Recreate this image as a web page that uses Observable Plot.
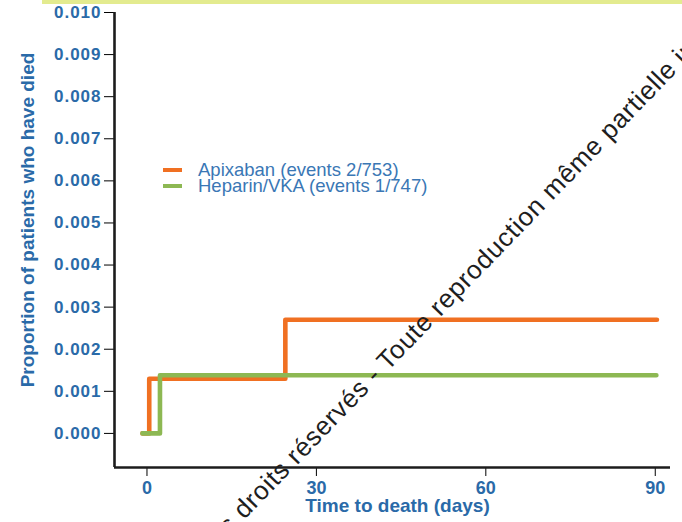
<!DOCTYPE html>
<html>
<head>
<meta charset="utf-8">
<script src="https://cdn.jsdelivr.net/npm/d3@7"></script>
<script src="https://cdn.jsdelivr.net/npm/@observablehq/plot@0.6"></script>
<style>
  body { margin: 0; background: #fff; }
  #wrap { position: relative; width: 682px; height: 522px; overflow: hidden; }
  #topband { position: absolute; left: 42px; top: 0; width: 640px; height: 4px; background: #e3eb8f; z-index: 2; }
  #legend { position: absolute; left: 163px; top: 162px; font: 18.5px "Liberation Sans", Arial, sans-serif; color: #3a77b5; z-index: 2; }
  #legend .row { display: flex; align-items: center; height: 16px; white-space: nowrap; }
  #legend .sw { width: 19px; height: 4px; margin-right: 16px; }
</style>
</head>
<body>
<div id="wrap">
  <div id="topband"></div>
  <div id="chart"></div>
  <div id="legend"></div>
</div>
<script>
// Axis ticks and titles
const xTicks = [0, 30, 60, 90];
const yTicks = [0, 0.001, 0.002, 0.003, 0.004, 0.005, 0.006, 0.007, 0.008, 0.009, 0.010];
const xTitle = "Time to death (days)";
const yTitle = "Proportion of patients who have died";

// Series (cumulative proportion dying, step function)
const seriesNames = ["Apixaban (events 2/753)", "Heparin/VKA (events 1/747)"];
const seriesColors = ["#f07022", "#8db853"];
const apixabanDays = [-0.8, 0.4, 24.5, 90.3];
const apixabanProp = [0, 0.0013, 0.0027, 0.0027];
const heparinDays = [-0.8, 2.3, 90.2];
const heparinProp = [0, 0.00138, 0.00138];

const watermarkText = "Tous droits réservés - Toute reproduction même partielle interdite";

const apixaban = apixabanDays.map((d, i) => ({day: d, prop: apixabanProp[i]}));
const heparin = heparinDays.map((d, i) => ({day: d, prop: heparinProp[i]}));

const xDomain = [-5.75, 92.7];
const yDomain = [-0.00081, 0.010];
const blue = "#2a6aa8";
const ink = "#1c1c1c";

const chart = Plot.plot({
  width: 682,
  height: 522,
  marginLeft: 114,
  marginRight: 12,
  marginTop: 12,
  marginBottom: 55,
  style: { fontFamily: "'Liberation Sans', Arial, sans-serif", background: "white" },
  x: { domain: xDomain, ticks: xTicks, tickSize: 9, tickPadding: 5, tickFormat: "d", label: null },
  y: { domain: yDomain, ticks: yTicks, tickSize: 10, tickPadding: 3, tickFormat: ".3f", label: null },
  marks: [
    // axis lines
    Plot.ruleX([xDomain[0]], { stroke: ink, strokeWidth: 2.6 }),
    Plot.ruleY([yDomain[0]], { stroke: ink, strokeWidth: 2.6 }),
    // axis titles
    Plot.text([xTitle], { frameAnchor: "bottom", dx: 5, dy: 44, fill: blue, fontSize: 19, fontWeight: "bold" }),
    Plot.text([yTitle], { frameAnchor: "left", textAnchor: "middle", rotate: -90, dx: -87, dy: -20,
      fill: blue, fontSize: 19, fontWeight: "bold" }),
    // step curves
    Plot.line(apixaban, { x: "day", y: "prop", curve: "step-after", stroke: seriesColors[0], strokeWidth: 4.6 }),
    Plot.line(heparin, { x: "day", y: "prop", curve: "step-after", stroke: seriesColors[1], strokeWidth: 4.6 }),
    // diagonal rights notice
    Plot.text([watermarkText], { frameAnchor: "bottom-left", dx: 84, dy: 100, rotate: -46,
      textAnchor: "start", lineAnchor: "bottom", fontSize: 26, fill: "#1e1e1e" })
  ]
});

// axis styling: bold blue labels, heavy dark ticks
const svg = d3.select(chart);
svg.selectAll('g[aria-label="y-axis"] text, g[aria-label="y-axis tick label"] text')
  .style("fill", blue).style("font-size", "17px").style("font-weight", "bold").style("letter-spacing", "1px");
svg.selectAll('g[aria-label="x-axis"] text, g[aria-label="x-axis tick label"] text')
  .style("fill", blue).style("font-size", "18px").style("font-weight", "bold");
svg.selectAll('g[aria-label="y-axis"] line, g[aria-label="x-axis"] line, g[aria-label="y-axis"] path, g[aria-label="x-axis"] path')
  .style("stroke", ink).style("stroke-width", "2.4px");
svg.selectAll("text").filter(function() { return this.textContent === watermarkText; })
  .style("letter-spacing", "0.75px");

document.getElementById("chart").appendChild(chart);

// legend
const legend = d3.select("#legend");
seriesNames.forEach((name, i) => {
  const row = legend.append("div").attr("class", "row");
  row.append("div").attr("class", "sw").style("background", seriesColors[i]);
  row.append("span").text(name);
});
</script>
</body>
</html>
